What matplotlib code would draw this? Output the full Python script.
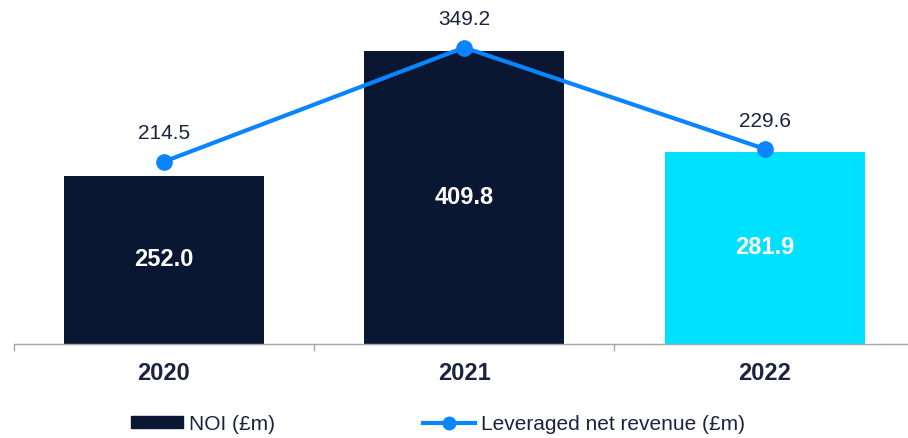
import matplotlib
matplotlib.use('Agg')
from matplotlib import pyplot as plt
from matplotlib.patches import Patch
from matplotlib.lines import Line2D

plt.rcParams['font.family'] = ['Liberation Sans', 'DejaVu Sans']

years = ['2020', '2021', '2022']
noi = [252.0, 409.8, 281.9]
leveraged = [214.5, 349.2, 229.6]
bar_colors = ['#0a1733', '#0a1733', '#00e0ff']

NAVY = '#0a1733'
BLUE = '#0a84ff'
TEXT = '#1b2340'
GREY = '#a6a6a6'


def main():
    fig = plt.figure(figsize=(9.08, 4.38), dpi=100)
    # axes bottom sits on the category axis line, top at the figure top
    ax = fig.add_axes([13.5 / 908, 94.5 / 438, 901.5 / 908, 343.5 / 438])
    x = list(range(len(years)))

    ax.bar(x, noi, width=0.667, color=bar_colors, zorder=2)
    ax.set_ylim(40.5, 474.2)
    ax.set_xlim(-0.5, 2.5)
    for xi, v in zip(x, noi):
        ax.text(xi, (v + 40.5) / 2, f'{v:.1f}', ha='center', va='center',
                color='white', fontsize=17, fontweight='bold', zorder=3)

    ax2 = ax.twinx()
    ax2.plot(x, leveraged, color=BLUE, lw=3, marker='o', markersize=11, zorder=4)
    ax2.set_ylim(0, 405.3)
    for xi, v in zip(x, leveraged):
        ax2.annotate(f'{v:.1f}', (xi, v), xytext=(0, 20), textcoords='offset points',
                     ha='center', va='center', fontsize=15, color=TEXT)

    for a in (ax, ax2):
        for s in a.spines.values():
            s.set_visible(False)
        a.set_yticks([])
    ax.spines['bottom'].set_visible(True)
    ax.spines['bottom'].set_color(GREY)
    ax.spines['bottom'].set_linewidth(1)

    ax.set_xticks(x)
    ax.set_xticklabels(years, fontsize=17, fontweight='bold', color=TEXT)
    ax.tick_params(axis='x', which='major', length=0, pad=13)
    ax.set_xticks([-0.5, 0.5, 1.5, 2.5], minor=True)
    ax.tick_params(axis='x', which='minor', length=5, color=GREY, width=1)

    handles = [Patch(color=NAVY),
               Line2D([], [], color=BLUE, lw=3, marker='o', markersize=9)]
    fig.legend(handles, ['NOI (£m)', 'Leveraged net revenue (£m)'], ncol=2,
               loc='center', bbox_to_anchor=(438 / 908, 1 - 424 / 438),
               frameon=False, fontsize=15, handlelength=2.5, handleheight=0.5,
               handletextpad=0.3, columnspacing=7.1, labelcolor=TEXT)

    fig.savefig('out.png', dpi=100)


if __name__ == '__main__':
    main()
